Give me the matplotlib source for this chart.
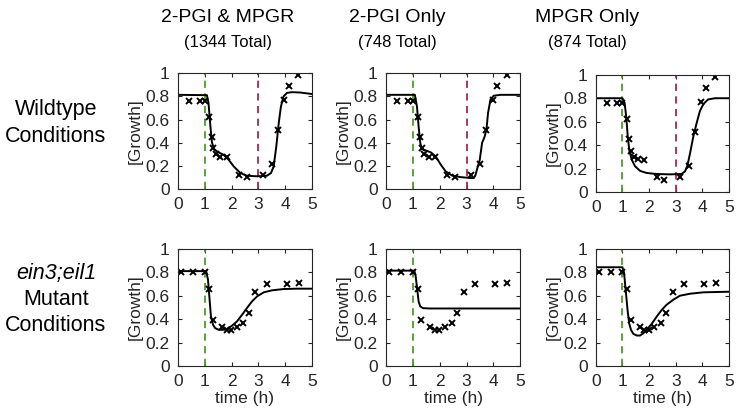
import numpy as np
import matplotlib
matplotlib.use('Agg')
import matplotlib.pyplot as plt

plt.rcParams['font.family'] = ['Liberation Sans', 'DejaVu Sans']

# measured growth, wildtype (same data in all three top panels)
wt_t = [0.40, 0.81, 1.00, 1.17, 1.26, 1.32, 1.42, 1.58, 1.82, 2.28, 2.57,
        3.16, 3.49, 3.73, 3.97, 4.15, 4.49]
wt_y = [0.756, 0.756, 0.756, 0.62, 0.45, 0.35, 0.30, 0.28, 0.275, 0.125,
        0.10, 0.125, 0.22, 0.51, 0.765, 0.89, 0.985]

# measured growth, ein3;eil1 mutant
mut_t = [0.10, 0.56, 1.00, 1.17, 1.31, 1.65, 1.82, 1.98, 2.20, 2.44, 2.64,
         2.89, 3.32, 4.05, 4.50]
mut_y = [0.80, 0.80, 0.80, 0.66, 0.39, 0.33, 0.31, 0.31, 0.33, 0.366, 0.45,
         0.63, 0.70, 0.70, 0.71]

# model fits
fit_both_wt_t = [0, 1.08, 1.14, 1.21, 1.27, 1.36, 1.52, 1.70, 1.89, 2.08, 2.33,
                 2.57, 2.95, 3.32, 3.47, 3.57, 3.67, 3.76, 3.84, 3.94, 4.07,
                 4.25, 4.56, 5]
fit_both_wt_y = [0.813, 0.81, 0.74, 0.54, 0.40, 0.34, 0.316, 0.296, 0.253,
                 0.195, 0.138, 0.115, 0.11, 0.115, 0.138, 0.195, 0.37, 0.57,
                 0.71, 0.80, 0.83, 0.836, 0.833, 0.82]

fit_pgi_wt_t = [0, 1.07, 1.15, 1.21, 1.27, 1.33, 1.48, 1.67, 1.85, 2.04, 2.22,
                2.47, 2.78, 3.15, 3.27, 3.33, 3.42, 3.49, 3.58, 3.67, 3.74,
                3.80, 3.89, 4.01, 4.26, 5]
fit_pgi_wt_y = [0.813, 0.813, 0.71, 0.54, 0.40, 0.345, 0.333, 0.316, 0.28,
                0.21, 0.152, 0.115, 0.103, 0.095, 0.095, 0.12, 0.195, 0.25,
                0.40, 0.45, 0.51, 0.655, 0.77, 0.805, 0.813, 0.813]

fit_mpgr_wt_t = [0, 1.00, 1.08, 1.14, 1.20, 1.26, 1.35, 1.47, 1.66, 1.91, 2.29,
                 2.79, 3.22, 3.35, 3.44, 3.54, 3.66, 3.79, 3.91, 4.04, 4.22,
                 4.48, 5]
fit_mpgr_wt_y = [0.80, 0.80, 0.76, 0.645, 0.47, 0.35, 0.275, 0.22, 0.18, 0.162,
                 0.153, 0.15, 0.153, 0.176, 0.224, 0.33, 0.47, 0.59, 0.69,
                 0.75, 0.79, 0.80, 0.80]

fit_both_mut_t = [0, 1.05, 1.12, 1.18, 1.23, 1.31, 1.39, 1.52, 1.68, 1.83, 2.01,
                  2.20, 2.39, 2.57, 2.76, 2.95, 3.20, 3.51, 3.94, 4.44, 5]
fit_both_mut_y = [0.81, 0.81, 0.737, 0.566, 0.423, 0.351, 0.323, 0.309, 0.309,
                  0.317, 0.343, 0.38, 0.437, 0.494, 0.551, 0.594, 0.629, 0.646,
                  0.657, 0.66, 0.66]

fit_pgi_mut_t = [0, 1.05, 1.10, 1.16, 1.21, 1.27, 1.37, 1.62, 5]
fit_pgi_mut_y = [0.814, 0.814, 0.766, 0.651, 0.551, 0.509, 0.494, 0.491, 0.491]

fit_mpgr_mut_t = [0, 1.00, 1.06, 1.12, 1.19, 1.25, 1.32, 1.41, 1.54, 1.66, 1.79,
                  1.91, 2.10, 2.29, 2.48, 2.66, 2.91, 3.16, 3.54, 4.04, 5]
fit_mpgr_mut_y = [0.843, 0.843, 0.794, 0.651, 0.48, 0.366, 0.309, 0.274, 0.26,
                  0.26, 0.28, 0.309, 0.36, 0.423, 0.48, 0.523, 0.566, 0.60,
                  0.617, 0.629, 0.634]

col_titles = ['2-PGI & MPGR', '2-PGI Only', 'MPGR Only']
col_totals = ['(1344 Total)', '(748 Total)', '(874 Total)']
ethylene_on = 1.0
ethylene_off = 3.0

GREEN = '#4f9a2c'
RED = '#a3294f'
AX_GREY = '#262626'

fig = plt.figure(figsize=(7.37, 4.11), dpi=100)

# axes rectangles [left, bottom, width, height] in figure fraction
lefts = [0.2415, 0.5240, 0.8085]
widths = [0.1818, 0.1818, 0.1805]
top_rects = [(0.540, 0.282), (0.540, 0.282), (0.533, 0.285)]
bot_rects = [(0.1095, 0.285), (0.1095, 0.285), (0.1095, 0.285)]

fits_top = [(fit_both_wt_t, fit_both_wt_y), (fit_pgi_wt_t, fit_pgi_wt_y),
            (fit_mpgr_wt_t, fit_mpgr_wt_y)]
fits_bot = [(fit_both_mut_t, fit_both_mut_y), (fit_pgi_mut_t, fit_pgi_mut_y),
            (fit_mpgr_mut_t, fit_mpgr_mut_y)]


def style(ax, xlabel):
    ax.set_xlim(0, 5)
    ax.set_ylim(0, 1)
    ax.set_xticks([0, 1, 2, 3, 4, 5])
    ax.set_yticks([0, 0.2, 0.4, 0.6, 0.8, 1])
    ax.set_yticklabels(['0', '0.2', '0.4', '0.6', '0.8', '1'])
    ax.tick_params(direction='in', length=3, width=0.8, labelsize=12.5,
                   colors=AX_GREY, top=True, right=True)
    ax.tick_params(axis='x', pad=6)
    ax.tick_params(axis='y', pad=6)
    for s in ax.spines.values():
        s.set_color(AX_GREY)
        s.set_linewidth(0.8)
    ax.set_ylabel('[Growth]', fontsize=12.5, color=AX_GREY, labelpad=2)
    if xlabel:
        ax.set_xlabel('time (h)', fontsize=12.5, color=AX_GREY, labelpad=1)


for i in range(3):
    b, h = top_rects[i]
    ax = fig.add_axes([lefts[i], b, widths[i], h])
    ax.axvline(ethylene_on, color=GREEN, ls=(0, (4, 3)), lw=1.3)
    ax.axvline(ethylene_off, color=RED, ls=(0, (4, 3)), lw=1.3)
    ax.plot(*fits_top[i], color='black', lw=1.4)
    ax.plot(wt_t, wt_y, 'x', color='black', ms=4, mew=1.4)
    style(ax, False)

    b, h = bot_rects[i]
    ax = fig.add_axes([lefts[i], b, widths[i], h])
    ax.axvline(ethylene_on, color=GREEN, ls=(0, (4, 3)), lw=1.3)
    ax.plot(*fits_bot[i], color='black', lw=1.4)
    ax.plot(mut_t, mut_y, 'x', color='black', ms=4, mew=1.4)
    style(ax, True)

# column headers
title_x = [228, 397, 587]
for x, t1, t2 in zip(title_x, col_titles, col_totals):
    fig.text(x / 737, 1 - 17 / 411, t1, ha='center', va='center', fontsize=14)
    fig.text(x / 737, 1 - 43 / 411, t2, ha='center', va='center', fontsize=12)

# row headers
fig.text(56 / 737, 1 - 110 / 411, 'Wildtype', ha='center', va='center', fontsize=15.5)
fig.text(56 / 737, 1 - 136 / 411, 'Conditions', ha='center', va='center', fontsize=15.5)
fig.text(56 / 737, 1 - 273 / 411, 'ein3;eil1', ha='center', va='center',
         fontsize=15.5, style='italic')
fig.text(56 / 737, 1 - 299 / 411, 'Mutant', ha='center', va='center', fontsize=15.5)
fig.text(56 / 737, 1 - 325 / 411, 'Conditions', ha='center', va='center', fontsize=15.5)

fig.savefig('out.png', dpi=100)
